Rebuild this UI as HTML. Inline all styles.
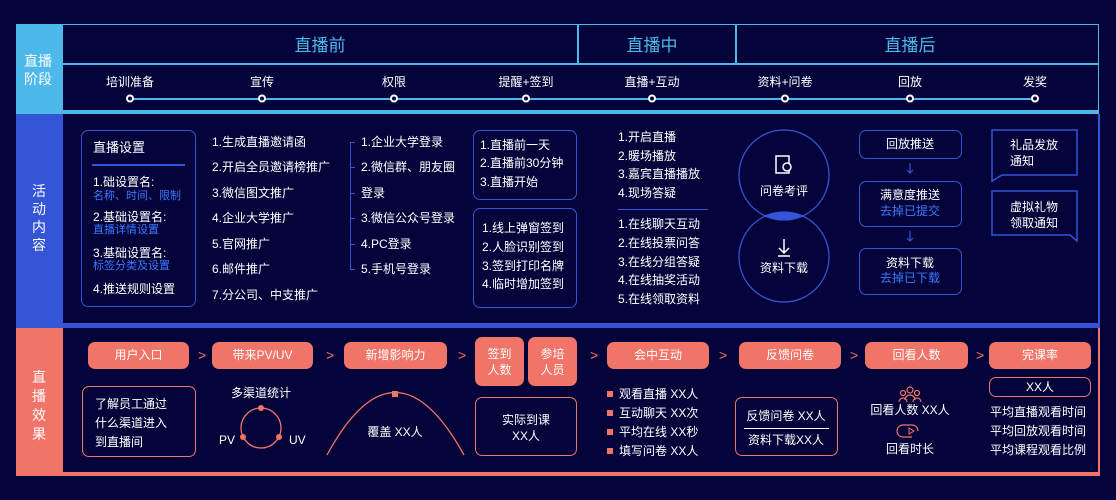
<!DOCTYPE html><html><head><meta charset="utf-8"><style>
*{margin:0;padding:0;box-sizing:border-box}
body{width:1116px;height:500px;background:#04043a;position:relative;overflow:hidden;font-family:"Liberation Sans","Noto Sans CJK SC",sans-serif;color:#fff;font-size:12px}
.a{position:absolute}
.t{position:absolute;white-space:nowrap;line-height:1}
.c{transform:translateX(-50%)}
.hd{color:#4db8ea;font-size:17px}
.box{position:absolute;border:1.5px solid #3355d6;border-radius:7px}
.pill{position:absolute;background:#f07468;border-radius:7px;text-align:center;color:#fff;font-size:12px}
.obox{position:absolute;border:1.5px solid #f07468;border-radius:7px}
.blue{color:#3d78ff}
.chev{position:absolute;color:#f07468;font-size:14px;line-height:1}
.sq{position:absolute;width:6px;height:6px;background:#f07468}
</style></head><body>
<div class="a" style="left:16px;top:24px;width:47px;height:90px;background:#4db8ea"></div>
<div class="a" style="left:63px;top:24px;width:1036px;height:90px;border:1.5px solid #4db8ea;border-left:none"></div>
<div class="a" style="left:63px;top:63px;width:1036px;height:1.5px;background:#4db8ea"></div>
<div class="a" style="left:577px;top:24px;width:1.5px;height:40px;background:#4db8ea"></div>
<div class="a" style="left:735px;top:24px;width:1.5px;height:40px;background:#4db8ea"></div>
<div class="a" style="left:16px;top:110px;width:1083px;height:4px;background:#4db8ea"></div>
<div class="t" style="left:24px;top:52px;font-size:14px;line-height:18px;white-space:normal;width:32px">直播<br>阶段</div>
<div class="t hd c" style="left:320px;top:37px">直播前</div>
<div class="t hd c" style="left:652px;top:37px">直播中</div>
<div class="t hd c" style="left:910px;top:37px">直播后</div>
<div class="a" style="left:130px;top:98px;width:905px;height:1.5px;background:#4db8ea"></div>
<div class="t c" style="left:130px;top:76px">培训准备</div>
<div class="t c" style="left:262px;top:76px">宣传</div>
<div class="t c" style="left:394px;top:76px">权限</div>
<div class="t c" style="left:526px;top:76px">提醒+签到</div>
<div class="t c" style="left:652px;top:76px">直播+互动</div>
<div class="t c" style="left:785px;top:76px">资料+问卷</div>
<div class="t c" style="left:910px;top:76px">回放</div>
<div class="t c" style="left:1035px;top:76px">发奖</div>
<svg class="a" style="left:0;top:0" width="1116" height="500">
<g fill="#05053a" stroke="#fff" stroke-width="2">
<circle cx="130" cy="98.5" r="3"/><circle cx="262" cy="98.5" r="3"/><circle cx="394" cy="98.5" r="3"/><circle cx="526" cy="98.5" r="3"/><circle cx="652" cy="98.5" r="3"/><circle cx="785" cy="98.5" r="3"/><circle cx="910" cy="98.5" r="3"/><circle cx="1035" cy="98.5" r="3"/></g>
</svg>
<div class="a" style="left:16px;top:114px;width:47px;height:214px;background:#3355d6"></div>
<div class="a" style="left:1098px;top:114px;width:1.5px;height:214px;background:#3355d6"></div>
<div class="a" style="left:63px;top:323px;width:1036px;height:5px;background:#3355d6"></div>
<div class="t" style="left:32px;top:182px;font-size:14px;line-height:18px;white-space:normal;width:16px">活动内容</div>
<div class="box" style="left:81px;top:130px;width:115px;height:177px"></div>
<div class="t" style="left:93px;top:141px;font-size:13px">直播设置</div>
<div class="a" style="left:92px;top:164px;width:93px;height:1.5px;background:#3355d6"></div>
<div class="t" style="left:93px;top:176px">1.础设置名:</div>
<div class="t blue" style="left:93px;top:191px;font-size:11px">名称、时间、限制</div>
<div class="t" style="left:93px;top:211px">2.基础设置名:</div>
<div class="t blue" style="left:93px;top:225px;font-size:11px">直播详情设置</div>
<div class="t" style="left:93px;top:247px">3.基础设置名:</div>
<div class="t blue" style="left:93px;top:261px;font-size:11px">标签分类及设置</div>
<div class="t" style="left:93px;top:283px">4.推送规则设置</div>
<div class="t" style="left:212px;top:136px">1.生成直播邀请函</div>
<div class="t" style="left:212px;top:161px">2.开启全员邀请榜推广</div>
<div class="t" style="left:212px;top:187px">3.微信图文推广</div>
<div class="t" style="left:212px;top:212px">4.企业大学推广</div>
<div class="t" style="left:212px;top:238px">5.官网推广</div>
<div class="t" style="left:212px;top:263px">6.邮件推广</div>
<div class="t" style="left:212px;top:289px">7.分公司、中支推广</div>
<div class="a" style="left:350px;top:142px;width:5px;height:128px;border:1.2px solid #3355d6;border-right:none"></div>
<div class="a" style="left:350px;top:167px;width:5px;height:1.2px;background:#3355d6"></div>
<div class="a" style="left:350px;top:193px;width:5px;height:1.2px;background:#3355d6"></div>
<div class="a" style="left:350px;top:218px;width:5px;height:1.2px;background:#3355d6"></div>
<div class="a" style="left:350px;top:244px;width:5px;height:1.2px;background:#3355d6"></div>
<div class="t" style="left:361px;top:136px">1.企业大学登录</div>
<div class="t" style="left:361px;top:161px">2.微信群、朋友圈</div>
<div class="t" style="left:361px;top:187px">登录</div>
<div class="t" style="left:361px;top:212px">3.微信公众号登录</div>
<div class="t" style="left:361px;top:238px">4.PC登录</div>
<div class="t" style="left:361px;top:263px">5.手机号登录</div>
<div class="box" style="left:473px;top:130px;width:104px;height:70px"></div>
<div class="t" style="left:480px;top:139px">1.直播前一天</div>
<div class="t" style="left:480px;top:157px">2.直播前30分钟</div>
<div class="t" style="left:480px;top:176px">3.直播开始</div>
<div class="box" style="left:473px;top:208px;width:104px;height:100px"></div>
<div class="t" style="left:482px;top:222px">1.线上弹窗签到</div>
<div class="t" style="left:482px;top:241px">2.人脸识别签到</div>
<div class="t" style="left:482px;top:260px">3.签到打印名牌</div>
<div class="t" style="left:482px;top:278px">4.临时增加签到</div>
<div class="t" style="left:618px;top:131px">1.开启直播</div>
<div class="t" style="left:618px;top:150px">2.暖场播放</div>
<div class="t" style="left:618px;top:168px">3.嘉宾直播播放</div>
<div class="t" style="left:618px;top:187px">4.现场答疑</div>
<div class="a" style="left:618px;top:209px;width:90px;height:1.2px;background:#3355d6"></div>
<div class="t" style="left:618px;top:218px">1.在线聊天互动</div>
<div class="t" style="left:618px;top:237px">2.在线投票问答</div>
<div class="t" style="left:618px;top:256px">3.在线分组答疑</div>
<div class="t" style="left:618px;top:274px">4.在线抽奖活动</div>
<div class="t" style="left:618px;top:293px">5.在线领取资料</div>
<svg class="a" style="left:0;top:0" width="1116" height="500">
<defs><clipPath id="cp"><circle cx="784" cy="175" r="45"/></clipPath></defs>
<circle cx="784" cy="257" r="45" fill="#3355d6" clip-path="url(#cp)"/>
<circle cx="784" cy="175" r="45" fill="none" stroke="#3355d6" stroke-width="1.3"/>
<circle cx="784" cy="257" r="45" fill="none" stroke="#3355d6" stroke-width="1.3"/>
<rect x="776" y="156" width="13" height="17" fill="none" stroke="#fff" stroke-width="1.5"/>
<circle cx="787" cy="167" r="4" fill="#05053a" stroke="#fff" stroke-width="1.5"/>
<path d="M784 239v14M779 248l5 5 5-5M778 256h12" stroke="#fff" stroke-width="1.5" fill="none"/>
<path d="M910 163v10M907 170l3 3 3-3M910 231v10M907 238l3 3 3-3" stroke="#3355d6" stroke-width="1.2" fill="none"/>
<path d="M992 130h85v45h-75l-10 6z" fill="none" stroke="#3355d6" stroke-width="1.5"/>
<path d="M992 191h85v50l-7-6h-78z" fill="none" stroke="#3355d6" stroke-width="1.5"/>
</svg>
<div class="t c" style="left:784px;top:185px">问卷考评</div>
<div class="t c" style="left:784px;top:262px">资料下载</div>
<div class="box" style="left:859px;top:130px;width:103px;height:29px"></div>
<div class="t c" style="left:910px;top:138px">回放推送</div>
<div class="box" style="left:859px;top:181px;width:103px;height:46px"></div>
<div class="t c" style="left:910px;top:189px">满意度推送</div>
<div class="t c blue" style="left:910px;top:205px">去掉已提交</div>
<div class="box" style="left:859px;top:248px;width:103px;height:47px"></div>
<div class="t c" style="left:910px;top:257px">资料下载</div>
<div class="t c blue" style="left:910px;top:272px">去掉已下载</div>
<div class="t" style="left:1010px;top:137px;line-height:16px">礼品发放<br>通知</div>
<div class="t" style="left:1010px;top:199px;line-height:16px">虚拟礼物<br>领取通知</div>
<div class="a" style="left:16px;top:328px;width:47px;height:148px;background:#f07468"></div>
<div class="a" style="left:63px;top:472px;width:1036px;height:4px;background:#f07468"></div>
<div class="a" style="left:1098px;top:328px;width:1.5px;height:148px;background:#f07468"></div>
<div class="t" style="left:32px;top:368px;font-size:14px;line-height:19px;white-space:normal;width:16px">直播效果</div>
<div class="pill" style="left:88px;top:342px;width:101px;height:27px;line-height:27px">用户入口</div>
<div class="pill" style="left:212px;top:342px;width:101px;height:27px;line-height:27px">带来PV/UV</div>
<div class="pill" style="left:344px;top:342px;width:103px;height:27px;line-height:27px">新增影响力</div>
<div class="pill" style="left:475px;top:337px;width:49px;height:49px;padding-top:9px;line-height:16px">签到<br>人数</div>
<div class="pill" style="left:528px;top:337px;width:49px;height:49px;padding-top:9px;line-height:16px">参培<br>人员</div>
<div class="pill" style="left:607px;top:342px;width:102px;height:27px;line-height:27px">会中互动</div>
<div class="pill" style="left:739px;top:342px;width:102px;height:27px;line-height:27px">反馈问卷</div>
<div class="pill" style="left:865px;top:342px;width:103px;height:27px;line-height:27px">回看人数</div>
<div class="pill" style="left:989px;top:342px;width:102px;height:27px;line-height:27px">完课率</div>
<div class="chev" style="left:198px;top:348px">&gt;</div>
<div class="chev" style="left:326px;top:348px">&gt;</div>
<div class="chev" style="left:458px;top:348px">&gt;</div>
<div class="chev" style="left:590px;top:348px">&gt;</div>
<div class="chev" style="left:719px;top:348px">&gt;</div>
<div class="chev" style="left:850px;top:348px">&gt;</div>
<div class="chev" style="left:976px;top:348px">&gt;</div>
<div class="obox" style="left:82px;top:386px;width:114px;height:71px"></div>
<div class="t" style="left:95px;top:395px;line-height:19px">了解员工通过<br>什么渠道进入<br>到直播间</div>
<div class="t c" style="left:261px;top:387px">多渠道统计</div>
<svg class="a" style="left:0;top:0" width="1116" height="500">
<circle cx="261" cy="428" r="20" fill="none" stroke="#f07468" stroke-width="1.3"/>
<circle cx="261" cy="408" r="3" fill="#f07468"/><circle cx="243" cy="437" r="3" fill="#f07468"/><circle cx="279" cy="437" r="3" fill="#f07468"/>
<path d="M327 455Q395 330 464 455" fill="none" stroke="#f07468" stroke-width="1.3"/>
<rect x="392" y="391" width="6" height="6" fill="#f07468"/>
<path d="M905 400a5 5 0 0 1 10 0M899 402a4 4 0 0 1 8 0M913 402a4 4 0 0 1 8 0" fill="none" stroke="#f07468" stroke-width="1.2"/>
<circle cx="910" cy="390" r="3" fill="none" stroke="#f07468" stroke-width="1.2"/><circle cx="903" cy="393" r="2.5" fill="none" stroke="#f07468" stroke-width="1.2"/><circle cx="917" cy="393" r="2.5" fill="none" stroke="#f07468" stroke-width="1.2"/>
<path d="M918 431a6 6 0 0 0-6-6h-9a6 6 0 0 0 0 12h9" fill="none" stroke="#f07468" stroke-width="1.2"/>
<path d="M909 428l5 3-5 3z" fill="none" stroke="#f07468" stroke-width="1"/>
</svg>
<div class="t" style="left:219px;top:434px">PV</div>
<div class="t" style="left:289px;top:434px">UV</div>
<div class="t c" style="left:395px;top:426px">覆盖 XX人</div>
<div class="obox" style="left:475px;top:397px;width:102px;height:59px"></div>
<div class="t c" style="left:526px;top:412px;line-height:16px;text-align:center">实际到课<br>XX人</div>
<div class="sq" style="left:607px;top:391px"></div><div class="t" style="left:619px;top:388px">观看直播 XX人</div>
<div class="sq" style="left:607px;top:410px"></div><div class="t" style="left:619px;top:407px">互动聊天 XX次</div>
<div class="sq" style="left:607px;top:429px"></div><div class="t" style="left:619px;top:426px">平均在线 XX秒</div>
<div class="sq" style="left:607px;top:448px"></div><div class="t" style="left:619px;top:445px">填写问卷 XX人</div>
<div class="obox" style="left:735px;top:397px;width:103px;height:59px"></div>
<div class="t c" style="left:786px;top:410px">反馈问卷 XX人</div>
<div class="a" style="left:744px;top:428px;width:85px;height:1.2px;background:#fff"></div>
<div class="t c" style="left:786px;top:434px">资料下载XX人</div>
<div class="t c" style="left:910px;top:404px">回看人数 XX人</div>
<div class="t c" style="left:910px;top:443px">回看时长</div>
<div class="obox" style="left:989px;top:377px;width:102px;height:20px"></div>
<div class="t c" style="left:1040px;top:381px">XX人</div>
<div class="t" style="left:990px;top:406px">平均直播观看时间</div>
<div class="t" style="left:990px;top:425px">平均回放观看时间</div>
<div class="t" style="left:990px;top:444px">平均课程观看比例</div>
</body></html>
